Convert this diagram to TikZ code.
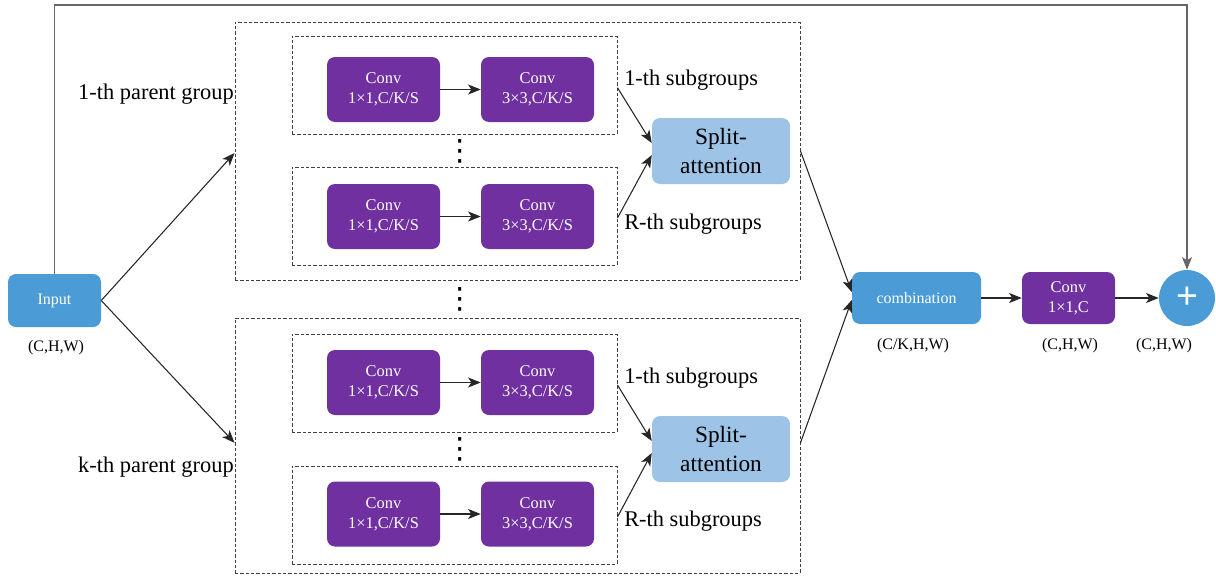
\documentclass[tikz,border=0pt]{standalone}
\usepackage{fontspec}
\setmainfont{Liberation Serif}
\newfontfamily\symfont{DejaVu Sans}
\usetikzlibrary{arrows.meta}
\definecolor{convpurple}{HTML}{7030A0}
\definecolor{boxblue}{HTML}{4A9BD6}
\definecolor{lightblue}{HTML}{9DC3E6}
\tikzset{
  x=0.75pt, y=-0.75pt,
  conv/.style={draw=none, fill=convpurple, rounded corners=6pt, text=white,
    minimum width=84.75pt, minimum height=48.75pt, align=center,
    font=\fontsize{12.3}{15}\selectfont, inner sep=0pt},
  bluebox/.style={draw=none, fill=boxblue, rounded corners=6pt, text=white,
    align=center, font=\fontsize{12}{14}\selectfont, inner sep=0pt},
  splitbox/.style={draw=none, fill=lightblue, rounded corners=6pt, text=black,
    minimum width=103.5pt, minimum height=49.5pt, align=center,
    font=\fontsize{17.5}{21.5}\selectfont, inner sep=0pt},
  subbox/.style={draw=black!75, dashed, dash pattern=on 2.5pt off 1.5pt, line width=0.7pt,
    minimum width=243.75pt, minimum height=73.5pt, inner sep=0pt},
  parentbox/.style={draw=black!75, dashed, dash pattern=on 2.5pt off 1.5pt, line width=0.7pt,
    minimum width=423.75pt, inner sep=0pt},
  biglabel/.style={font=\fontsize{16.8}{18}\selectfont, inner sep=0pt},
  dimlabel/.style={font=\fontsize{12}{13}\selectfont, inner sep=0pt},
  dotsym/.style={font=\symfont\fontsize{22}{22}\selectfont, inner sep=0pt},
  arr/.style={draw=black!85, line width=0.8pt, -{Stealth[length=9.5pt,width=7.5pt,inset=2.5pt]}},
}
\begin{document}
\begin{tikzpicture}
\useasboundingbox (0,0) rectangle (1216,575);

% parent groups
\node[parentbox, minimum height=193.5pt] (g1) at (517.5,151) {};
\node[parentbox, minimum height=191.25pt] (g2) at (517.5,445.5) {};

% subgroups of the first parent group
\node[subbox] (s11) at (454.5,85) {};
\node[subbox] (s1r) at (454.5,216) {};
\node[conv] (c11a) at (383.5,89.5) {Conv\\1×1,C/K/S};
\node[conv] (c11b) at (537.5,89.5) {Conv\\3×3,C/K/S};
\node[conv] (c1ra) at (383.5,216.5) {Conv\\1×1,C/K/S};
\node[conv] (c1rb) at (537.5,216.5) {Conv\\3×3,C/K/S};
\node[dotsym] (d1) at (460,151) {⋮};

% subgroups of the k-th parent group
\node[subbox] (sk1) at (454.5,383) {};
\node[subbox] (skr) at (454.5,515) {};
\node[conv] (ck1a) at (383.5,382.5) {Conv\\1×1,C/K/S};
\node[conv] (ck1b) at (537.5,382.5) {Conv\\3×3,C/K/S};
\node[conv] (ckra) at (383.5,514) {Conv\\1×1,C/K/S};
\node[conv] (ckrb) at (537.5,514) {Conv\\3×3,C/K/S};
\node[dotsym] (d2) at (460,449) {⋮};

\node[dotsym] (d0) at (460,299) {⋮};

% split-attention blocks
\node[splitbox] (sp1) at (721,151) {Split-\\attention};
\node[splitbox] (spk) at (721,449) {Split-\\attention};

% labels
\node[biglabel, anchor=east] (lp1) at (234,94) {1-th parent group};
\node[biglabel, anchor=east] (lpk) at (234,467) {k-th parent group};
\node[biglabel, anchor=west] (l11) at (624,80) {1-th subgroups};
\node[biglabel, anchor=west] (l1r) at (624,224) {R-th subgroups};
\node[biglabel, anchor=west] (lk1) at (624,378) {1-th subgroups};
\node[biglabel, anchor=west] (lkr) at (624,521) {R-th subgroups};

% input, combination, output
\node[bluebox, minimum width=69.75pt, minimum height=39.75pt] (in) at (54.5,300.5) {Input};
\node[dimlabel] (inlab) at (56,348) {(C,H,W)};
\node[bluebox, minimum width=96.75pt, minimum height=39pt] (comb) at (916.5,298) {combination};
\node[dimlabel] (comblab) at (913,346) {(C/K,H,W)};
\node[conv, minimum width=69.75pt, minimum height=39pt] (convc) at (1068.5,298) {Conv\\1×1,C};
\node[dimlabel] (convlab) at (1070,346) {(C,H,W)};
\node[circle, fill=boxblue, minimum size=42pt, inner sep=0pt, text=white,
  font=\fontspec{Liberation Sans}\fontsize{28}{28}\selectfont] (sum) at (1187,298) {+};
\node[dimlabel] (sumlab) at (1164,346) {(C,H,W)};

% arrows inside subgroups
\draw[arr] (c11a) -- (c11b);
\draw[arr] (c1ra) -- (c1rb);
\draw[arr] (ck1a) -- (ck1b);
\draw[arr] (ckra) -- (ckrb);

% subgroups to split-attention
\draw[arr] ([yshift=-2pt]s11.east) -- ([yshift=6pt]sp1.west);
\draw[arr] ([yshift=-1.5pt]s1r.east) -- ([yshift=-3pt]sp1.west);
\draw[arr] ([yshift=-1.5pt]sk1.east) -- ([yshift=6pt]spk.west);
\draw[arr] ([yshift=-1.5pt]skr.east) -- ([yshift=-3pt]spk.west);

% input to parent groups
\draw[arr] (in.east) -- ([yshift=-1.5pt]g1.west);
\draw[arr] (in.east) -- ([yshift=2pt]g2.west);

% parent groups to combination
\draw[arr] (g1.east) -- ([yshift=4.5pt]comb.west);
\draw[arr] ([yshift=2pt]g2.east) -- ([yshift=-1.5pt]comb.west);
\draw[arr] (comb) -- (convc);
\draw[arr] (convc) -- (sum);

% identity shortcut
\coordinate (tl) at (54.5,5);
\coordinate (tr) at (1187,5);
\draw[arr, draw=black!60] (in.north) -- (tl) -- (tr) -- (sum.north);
\end{tikzpicture}
\end{document}
